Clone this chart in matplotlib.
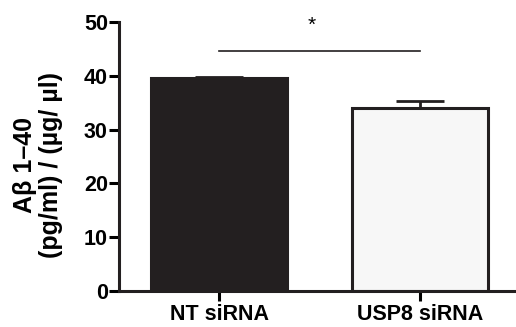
import matplotlib.pyplot as plt

# data
groups = ['NT siRNA', 'USP8 siRNA']
means = [39.6, 34.0]
sems = [0.25, 1.3]
colors = ['#231f20', '#f7f7f7']
yticks = [0, 10, 20, 30, 40, 50]
sig_y = 44.6

plt.rcParams['font.family'] = ['Liberation Sans', 'DejaVu Sans']
plt.rcParams['font.weight'] = 'bold'

fig = plt.figure(figsize=(5.16, 3.27), dpi=100)
ax = fig.add_axes([0.2306, 0.110, 0.7694, 0.8227])

x = list(range(len(groups)))
ax.bar(x, means, width=0.68, color=colors, edgecolor='#231f20', linewidth=2.2, zorder=2)
ax.errorbar(x, means, yerr=[[0, 0], sems], fmt='none', ecolor='#231f20',
            elinewidth=2.0, capsize=17, capthick=2.0, zorder=1)

# significance bar
ax.plot([0, 1], [sig_y, sig_y], color='#231f20', lw=1.2)
ax.text(0.46, sig_y + 4.8, '*', ha='center', va='center', fontsize=15, fontweight='normal')

ax.set_xlim(-0.5, 1.48)
ax.set_ylim(0, 50)
ax.set_yticks(yticks)
ax.set_xticks(x)
ax.set_xticklabels(groups, fontsize=15.5, fontweight='bold')
ax.tick_params(axis='y', labelsize=15.5, width=2.2, length=7, pad=1)
ax.tick_params(axis='x', width=2.2, length=7, pad=2)
for lab in ax.get_yticklabels():
    lab.set_fontweight('bold')

ax.set_ylabel('A\u03b2 1\u201340\n(pg/ml) / (\u00b5g/ \u00b5l)', fontsize=18, fontweight='bold',
              linespacing=1.1)
ax.yaxis.set_label_coords(-0.141, 0.468)

for s in ['top', 'right']:
    ax.spines[s].set_visible(False)
for s in ['left', 'bottom']:
    ax.spines[s].set_linewidth(2.2)
    ax.spines[s].set_color('#231f20')

fig.savefig('out.png', dpi=100)
